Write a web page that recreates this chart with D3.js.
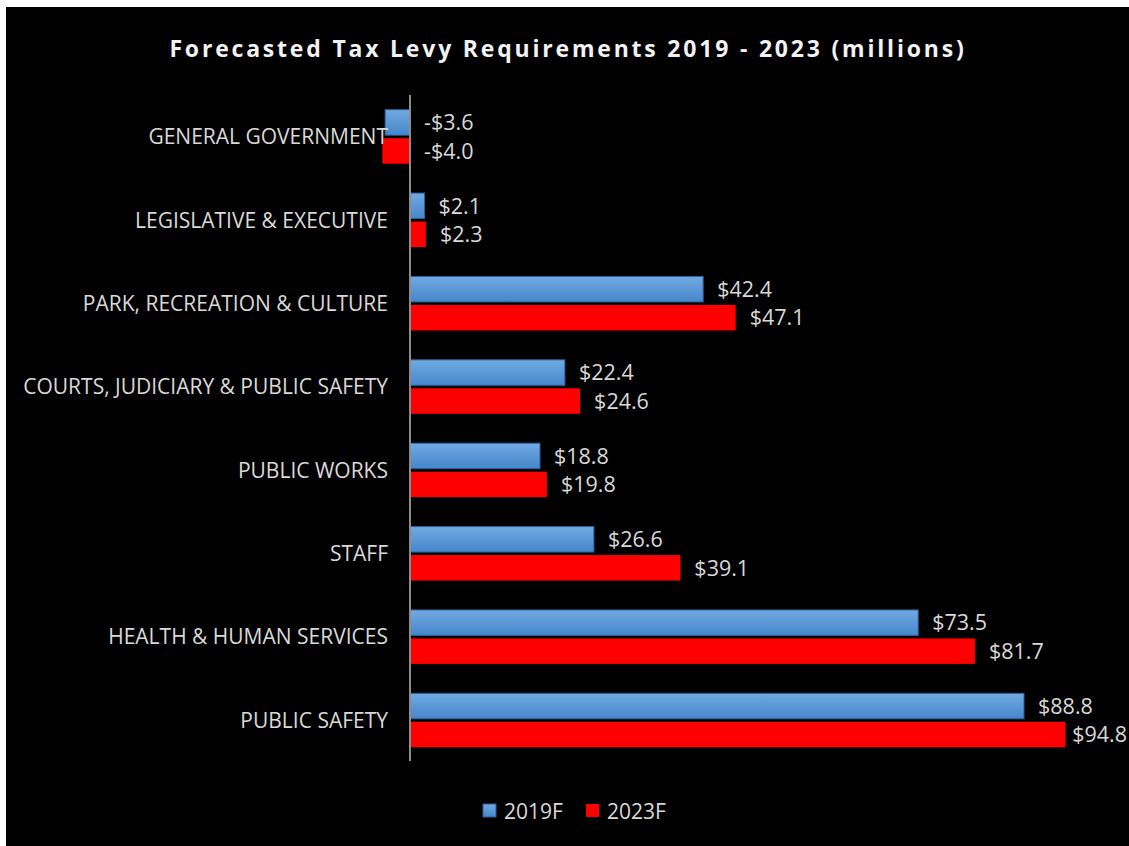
<!DOCTYPE html>
<html><head><meta charset="utf-8">
<script src="https://cdn.jsdelivr.net/npm/d3@7"></script>
<style>html,body{margin:0;padding:0;background:#fff;}svg{display:block;}</style>
</head><body>
<script>
const categories = ["GENERAL GOVERNMENT","LEGISLATIVE & EXECUTIVE","PARK, RECREATION & CULTURE","COURTS, JUDICIARY & PUBLIC SAFETY","PUBLIC WORKS","STAFF","HEALTH & HUMAN SERVICES","PUBLIC SAFETY"];
const values2019 = [-3.6, 2.1, 42.4, 22.4, 18.8, 26.6, 73.5, 88.8];
const values2023 = [-4.0, 2.3, 47.1, 24.6, 19.8, 39.1, 81.7, 94.8];
const seriesNames = ["2019F","2023F"];
const title = "Forecasted Tax Levy Requirements 2019 - 2023 (millions)";

const W = 1129, H = 846;
const svg = d3.select("body").append("svg").attr("width", W).attr("height", H);
const defs = svg.append("defs");
const g1 = defs.append("linearGradient").attr("id","blueGrad").attr("x1",0).attr("y1",0).attr("x2",0).attr("y2",1);
g1.append("stop").attr("offset","0%").attr("stop-color","#72aae2");
g1.append("stop").attr("offset","100%").attr("stop-color","#4586cc");

svg.append("rect").attr("x",6).attr("y",7).attr("width",W-6).attr("height",H-7).attr("fill","#000");

const font = "'Open Sans', sans-serif";
const textColor = "#d9d9d9";

svg.append("text").attr("x",568).attr("y",57).attr("text-anchor","middle")
  .attr("fill","#f2f2f2").attr("font-family",font).attr("font-weight","bold")
  .attr("font-size",23).attr("letter-spacing",2.8).text(title);

const x = d3.scaleLinear().domain([0, 88.8]).range([410, 1024]);
const y = d3.scaleBand().domain(categories).range([95, 762]);

const barH = 25.5;
const data = categories.map((c,i)=>({c, v:[values2019[i], values2023[i]]}));

const grp = svg.append("g");
data.forEach(d=>{
  const cy = y(d.c) + y.bandwidth()/2;
  d.v.forEach((v,s)=>{
    const y0 = s===0 ? cy - barH - 1.5 : cy + 1.5;
    const xa = x(Math.min(0,v)), xb = x(Math.max(0,v));
    grp.append("rect").attr("x",xa).attr("y",y0).attr("width",xb-xa).attr("height",barH)
      .attr("fill", s===0 ? "url(#blueGrad)" : "#ff0000")
      .attr("stroke", s===0 ? "#2e5f96" : "none").attr("stroke-width",1);
    const lbl = (v<0?"-$":"$") + Math.abs(v).toFixed(1);
    let lx = v<0 ? x(0)+14 : x(v)+14;
    const t = grp.append("text").attr("y", y0+barH/2).attr("dy","0.36em")
      .attr("fill",textColor).attr("font-family",font).attr("font-size",21.5).text(lbl);
    t.attr("x", lx);
    const w = t.node().getComputedTextLength();
    if (lx + w > W-2) t.attr("x", W-2-w);
  });
});

// category labels
svg.append("g").selectAll("text").data(categories).join("text")
  .attr("x",388).attr("y",d=>y(d)+y.bandwidth()/2).attr("dy","0.36em").attr("text-anchor","end")
  .attr("fill",textColor).attr("font-family",font).attr("font-size",21)
  .text(d=>d);

// axis line
svg.append("line").attr("x1",x(0)).attr("x2",x(0)).attr("y1",95).attr("y2",761)
  .attr("stroke","#8c8c8c").attr("stroke-width",2);

// legend
const legend = svg.append("g");
const lx = [483, 586];
seriesNames.forEach((n,i)=>{
  legend.append("rect").attr("x",lx[i]).attr("y",804).attr("width",13).attr("height",13)
    .attr("fill", i===0 ? "url(#blueGrad)" : "#ff0000").attr("stroke", i===0 ? "#2e5f96" : "none");
  legend.append("text").attr("x",lx[i]+21).attr("y",811).attr("dy","0.36em")
    .attr("fill",textColor).attr("font-family",font).attr("font-size",21).text(n);
});
</script>
</body></html>
